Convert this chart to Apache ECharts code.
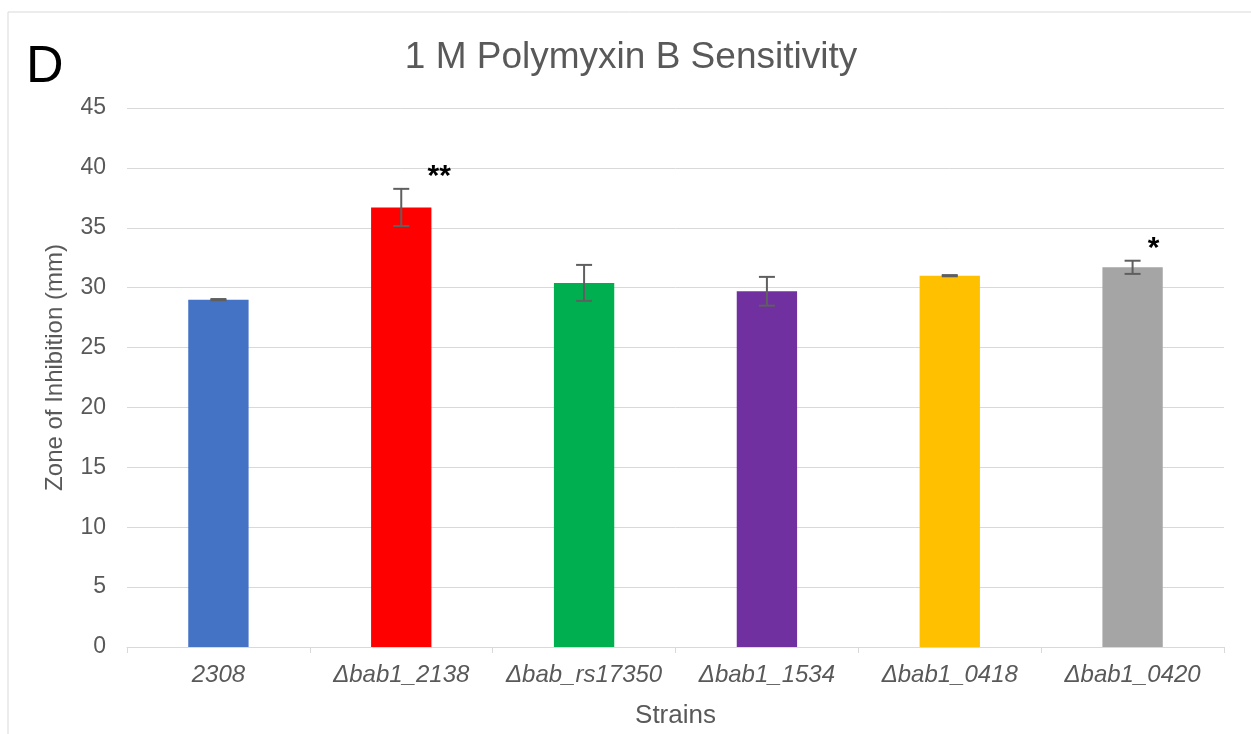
<!DOCTYPE html>
<html>
<head>
<meta charset="utf-8">
<script src="https://cdn.jsdelivr.net/npm/echarts@6/dist/echarts.min.js"></script>
<style>
  html, body { margin: 0; padding: 0; background: #fff; }
  #chart { width: 1251px; height: 734px; }
</style>
</head>
<body>
<div id="chart"></div>
<script>
// Strains and measured zones of inhibition (mm)
const strains = ['2308', 'Δbab1_2138', 'Δbab_rs17350', 'Δbab1_1534', 'Δbab1_0418', 'Δbab1_0420'];
const zoneMeans = [29.0, 36.7, 30.4, 29.7, 31.0, 31.7];
const zoneErrors = [0.05, 1.55, 1.5, 1.2, 0.05, 0.55];
const barColors = ['#4472C4', '#FF0000', '#00B050', '#7030A0', '#FFC000', '#A5A5A5'];
const significance = ['', '**', '', '', '', '*'];
const yTicks = { min: 0, max: 45, interval: 5 };

const textGray = '#595959';
const gridGray = '#d9d9d9';
const font = 'Liberation Sans, Arial, sans-serif';

const chart = echarts.init(document.getElementById('chart'), null, { renderer: 'canvas' });

const errorData = zoneMeans.map((m, i) => [i, m - zoneErrors[i], m + zoneErrors[i]]);
const starData = zoneMeans.map((m, i) => [i, m + zoneErrors[i]]);

chart.setOption({
  animation: false,
  backgroundColor: '#fff',
  graphic: [
    { type: 'line', shape: { x1: 8, y1: 12, x2: 1251, y2: 12 }, style: { stroke: gridGray, lineWidth: 1 }, silent: true },
    { type: 'line', shape: { x1: 8, y1: 12, x2: 8, y2: 734 }, style: { stroke: gridGray, lineWidth: 1 }, silent: true },
    { type: 'text', left: 26, top: 42, style: { text: 'D', fontSize: 52, fontFamily: font, fill: '#000' } }
  ],
  title: {
    text: '1 M Polymyxin B Sensitivity',
    left: 626, top: 34, textAlign: 'center',
    textStyle: { color: textGray, fontSize: 37, fontWeight: 'normal', fontFamily: font }
  },
  grid: { left: 127, right: 27, top: 108, bottom: 87, containLabel: false, outerBoundsMode: 'none' },
  xAxis: {
    type: 'category',
    data: strains,
    name: 'Strains',
    nameLocation: 'middle',
    nameGap: 56,
    nameTextStyle: { color: textGray, fontSize: 26, fontFamily: font },
    axisLine: { show: true, lineStyle: { color: gridGray, width: 1 } },
    axisTick: { show: true, length: 6, lineStyle: { color: gridGray } },
    axisLabel: { interval: 0, color: textGray, fontSize: 24, fontStyle: 'italic', margin: 16, fontFamily: font }
  },
  yAxis: {
    type: 'value',
    min: yTicks.min, max: yTicks.max, interval: yTicks.interval,
    name: 'Zone of Inhibition (mm)',
    nameLocation: 'middle',
    nameGap: 60,
    nameTextStyle: { color: textGray, fontSize: 24, fontFamily: font, padding: [0, 0, 0, 20] },
    axisLine: { show: false },
    axisTick: { show: false },
    axisLabel: { color: textGray, fontSize: 23, margin: 21, fontFamily: font },
    splitLine: { lineStyle: { color: gridGray, width: 1 } }
  },
  series: [
    {
      type: 'bar',
      data: zoneMeans.map((v, i) => ({ value: v, itemStyle: { color: barColors[i] } })),
      barWidth: '33%'
    },
    {
      type: 'custom',
      data: errorData,
      z: 5,
      renderItem: function (params, api) {
        const x = api.value(0);
        const lo = api.coord([x, api.value(1)]);
        const hi = api.coord([x, api.value(2)]);
        const cap = 8;
        const style = { stroke: '#5f5f5f', lineWidth: 2 };
        return {
          type: 'group',
          children: [
            { type: 'line', shape: { x1: hi[0], y1: hi[1], x2: lo[0], y2: lo[1] }, style },
            { type: 'line', shape: { x1: hi[0] - cap, y1: hi[1], x2: hi[0] + cap, y2: hi[1] }, style },
            { type: 'line', shape: { x1: lo[0] - cap, y1: lo[1], x2: lo[0] + cap, y2: lo[1] }, style }
          ]
        };
      }
    },
    {
      // significance stars, placed up and to the right of each error bar
      type: 'custom',
      data: starData,
      z: 6,
      renderItem: function (params, api) {
        const label = significance[params.dataIndex];
        if (!label) return null;
        const p = api.coord([api.value(0), api.value(1)]);
        return {
          type: 'text',
          style: {
            x: p[0] + 4 + 17 * label.length, y: p[1] + 3,
            text: label,
            fontSize: 30, fontWeight: 'bold',
            fontFamily: font,
            fill: '#000',
            textAlign: 'center', textVerticalAlign: 'bottom'
          }
        };
      }
    }
  ]
});
</script>
</body>
</html>
